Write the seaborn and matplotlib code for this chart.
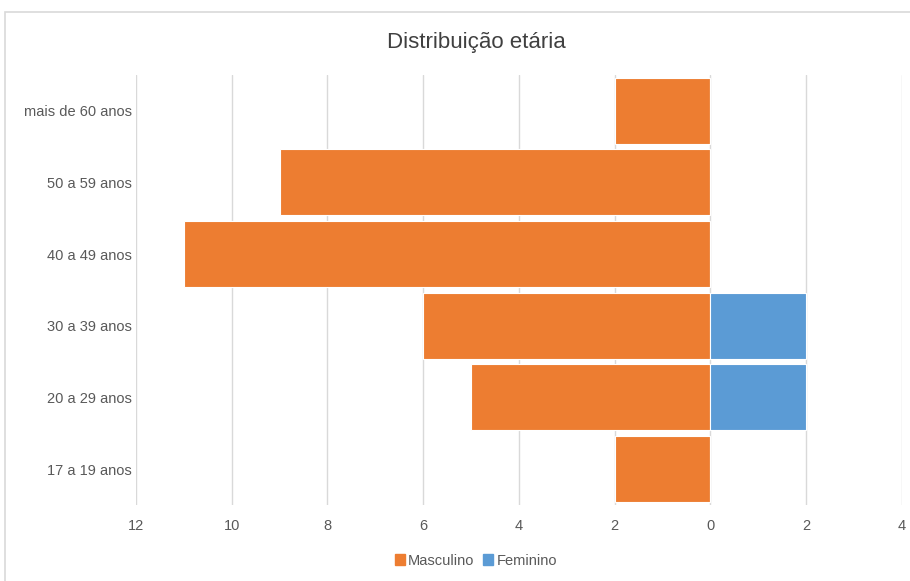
import matplotlib
matplotlib.use("Agg")
import matplotlib.pyplot as plt
import matplotlib.patches as mpatches
import seaborn as sns
import pandas as pd

categories = ["mais de 60 anos", "50 a 59 anos", "40 a 49 anos",
              "30 a 39 anos", "20 a 29 anos", "17 a 19 anos"]
masculino = [2, 9, 11, 6, 5, 2]
feminino = [0, 0, 0, 2, 2, 0]
x_ticks = [-12, -10, -8, -6, -4, -2, 0, 2, 4]

colors = {"Masculino": "#ED7D31", "Feminino": "#5B9BD5"}

df = pd.concat([
    pd.DataFrame({"faixa": categories, "valor": [-v for v in masculino], "sexo": "Masculino"}),
    pd.DataFrame({"faixa": categories, "valor": feminino, "sexo": "Feminino"}),
])

sns.set_style("white")
plt.rcParams["font.family"] = ["Liberation Sans", "DejaVu Sans"]

fig = plt.figure(figsize=(9.10, 5.81), dpi=100)
ax = fig.add_axes([0.1495, 0.131, 0.8415, 0.74])

# outer frame of the chart area
fig.patches.append(mpatches.Rectangle((5 / 910, -0.05), 1.2, 1.05 - 12 / 581,
                                      transform=fig.transFigure, fill=False,
                                      edgecolor="#D9D9D9", linewidth=1.2))

sns.barplot(data=df, y="faixa", x="valor", hue="sexo", order=categories,
            hue_order=["Masculino", "Feminino"], palette=colors, dodge=False,
            saturation=1, width=0.92, orient="h", edgecolor="white",
            linewidth=0.8, legend=False, ax=ax, zorder=3)

ax.set_xlim(-12, 4)
ax.set_xticks(x_ticks)
ax.set_xticklabels([str(abs(t)) for t in x_ticks])
ax.grid(axis="x", color="#D9D9D9", linewidth=1.0, zorder=0)
ax.set_axisbelow(True)
for s in ax.spines.values():
    s.set_visible(False)
ax.set_xlabel("")
ax.set_ylabel("")
ax.tick_params(axis="both", length=0, labelsize=10.5, labelcolor="#595959")
ax.tick_params(axis="x", pad=10)
ax.tick_params(axis="y", pad=3)

fig.text(0.523, 0.927, "Distribuição etária", ha="center", va="center",
         fontsize=16, color="#404040")

handles = [mpatches.Patch(color=colors[k], label=k) for k in ["Masculino", "Feminino"]]
fig.legend(handles=handles, loc="center", bbox_to_anchor=(0.523, 0.035), ncol=2,
           frameon=False, fontsize=10.5, handlelength=0.7, handleheight=0.7,
           handletextpad=0.2, columnspacing=0.6, labelcolor="#595959")

fig.savefig("out.png", dpi=100)
